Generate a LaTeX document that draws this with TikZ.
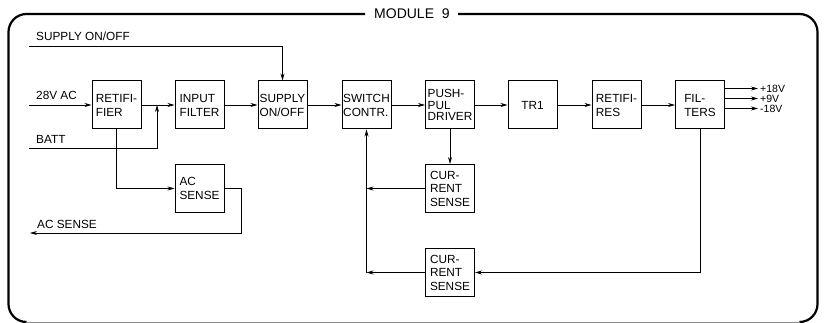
\documentclass[tikz,border=0pt]{standalone}
\usepackage{fontspec}
\setmainfont{Liberation Sans}
\usetikzlibrary{arrows.meta}
\tikzset{
  blk/.style={draw, line width=1pt, minimum width=49pt, minimum height=48pt, inner sep=0pt,
    align=left, font=\fontsize{11.8}{14}\selectfont},
  lbl/.style={inner sep=0pt, font=\fontsize{11.8}{14}\selectfont},
  outlbl/.style={inner ysep=0pt, inner xsep=2pt, anchor=west, font=\fontsize{10.5}{11}\selectfont},
  conn/.style={line width=0.7pt},
  arr/.style={conn, -{Stealth[length=7pt,width=4pt]}},
  frame/.style={line width=2.2pt, rounded corners=18pt}
}
\begin{document}
\begin{tikzpicture}[x=1pt,y=-1pt]
\useasboundingbox (0,0) rectangle (824,323);
% frame
\draw[frame] (365,14) -- (8.5,14) -- (8.5,322) -- (26.5,322);
\draw[frame] (458,14) -- (817.5,14) -- (817.5,322) -- (799.5,322);
\draw[line width=1pt, black!45] (26.5,322) -- (799.5,322);
\node[lbl, font=\fontsize{14}{16}\selectfont, anchor=west] (title) at (374,14) {MODULE\hspace{4pt} 9};
% blocks
\node[blk] (ret) at (116.5,105) {RETIFI-\\FIER};
\node[blk] (inf) at (199.5,105) {INPUT\\FILTER};
\node[blk] (sup) at (282.5,105) {SUPPLY\\ON/OFF};
\node[blk] (sw)  at (366.5,105) {SWITCH\\CONTR.};
\node[blk, font=\fontsize{11.8}{11.8}\selectfont] (pp) at (450,105) {PUSH-\\PUL\\DRIVER};
\node[blk] (tr)  at (532.5,105) {TR1};
\node[blk] (rr)  at (616.5,105) {RETIFI-\\RES};
\node[blk] (fil) at (700,105) {FIL-\\TERS};
\node[blk] (acs) at (199.5,188.5) {AC\\SENSE};
\node[blk, font=\fontsize{11.8}{13.5}\selectfont] (cs1) at (450,188.5) {CUR-\\RENT\\SENSE};
\node[blk, font=\fontsize{11.8}{13.5}\selectfont] (cs2) at (450,272.5) {CUR-\\RENT\\SENSE};
% external labels and free ends
\node[lbl, anchor=base west] (lsup) at (36,41) {SUPPLY ON/OFF};
\node[lbl, anchor=base west] (lac) at (36,100) {28V AC};
\node[lbl, anchor=base west] (lbatt) at (36,144) {BATT};
\node[lbl, anchor=base west] (lacs) at (37,228) {AC SENSE};
\coordinate (psup) at (29,46);
\coordinate (pac) at (29,105);
\coordinate (pbatt) at (29,148.5);
\coordinate (pacs) at (30,233);
\coordinate (j1) at (157,105);
\coordinate (jr) at (241,188.5);
% main chain
\draw[arr] (psup) -| (sup.north);
\draw[arr] (pac) -- (ret.west);
\draw[arr] (ret.east) -- (inf.west);
\draw[arr] (pbatt) -| (j1);
\draw[arr] (inf.east) -- (sup.west);
\draw[arr] (sup.east) -- (sw.west);
\draw[arr] (sw.east) -- (pp.west);
\draw[arr] (pp.east) -- (tr.west);
\draw[arr] (tr.east) -- (rr.west);
\draw[arr] (rr.east) -- (fil.west);
% outputs
\node[outlbl] (o1) at (758,88.5) {+18V};
\node[outlbl] (o2) at (758,98.5) {+9V};
\node[outlbl] (o3) at (758,108.5) {-18V};
\draw[arr] (fil.east |- o1.west) -- (o1.west);
\draw[arr] (fil.east |- o2.west) -- (o2.west);
\draw[arr] (fil.east |- o3.west) -- (o3.west);
% AC sense
\draw[arr] (ret.south) |- (acs.west);
\draw[arr] (acs.east) -- (jr) |- (pacs);
% current sense loops
\draw[arr] (pp.south) -- (cs1.north);
\draw[arr] (cs1.west) -- (sw.south |- cs1.west);
\draw[arr] (cs2.west) -- (sw.south |- cs2.west);
\draw[arr] (sw.south |- cs2.west) -- (sw.south);
\draw[arr] (fil.south) |- (cs2.east);
\end{tikzpicture}
\end{document}
